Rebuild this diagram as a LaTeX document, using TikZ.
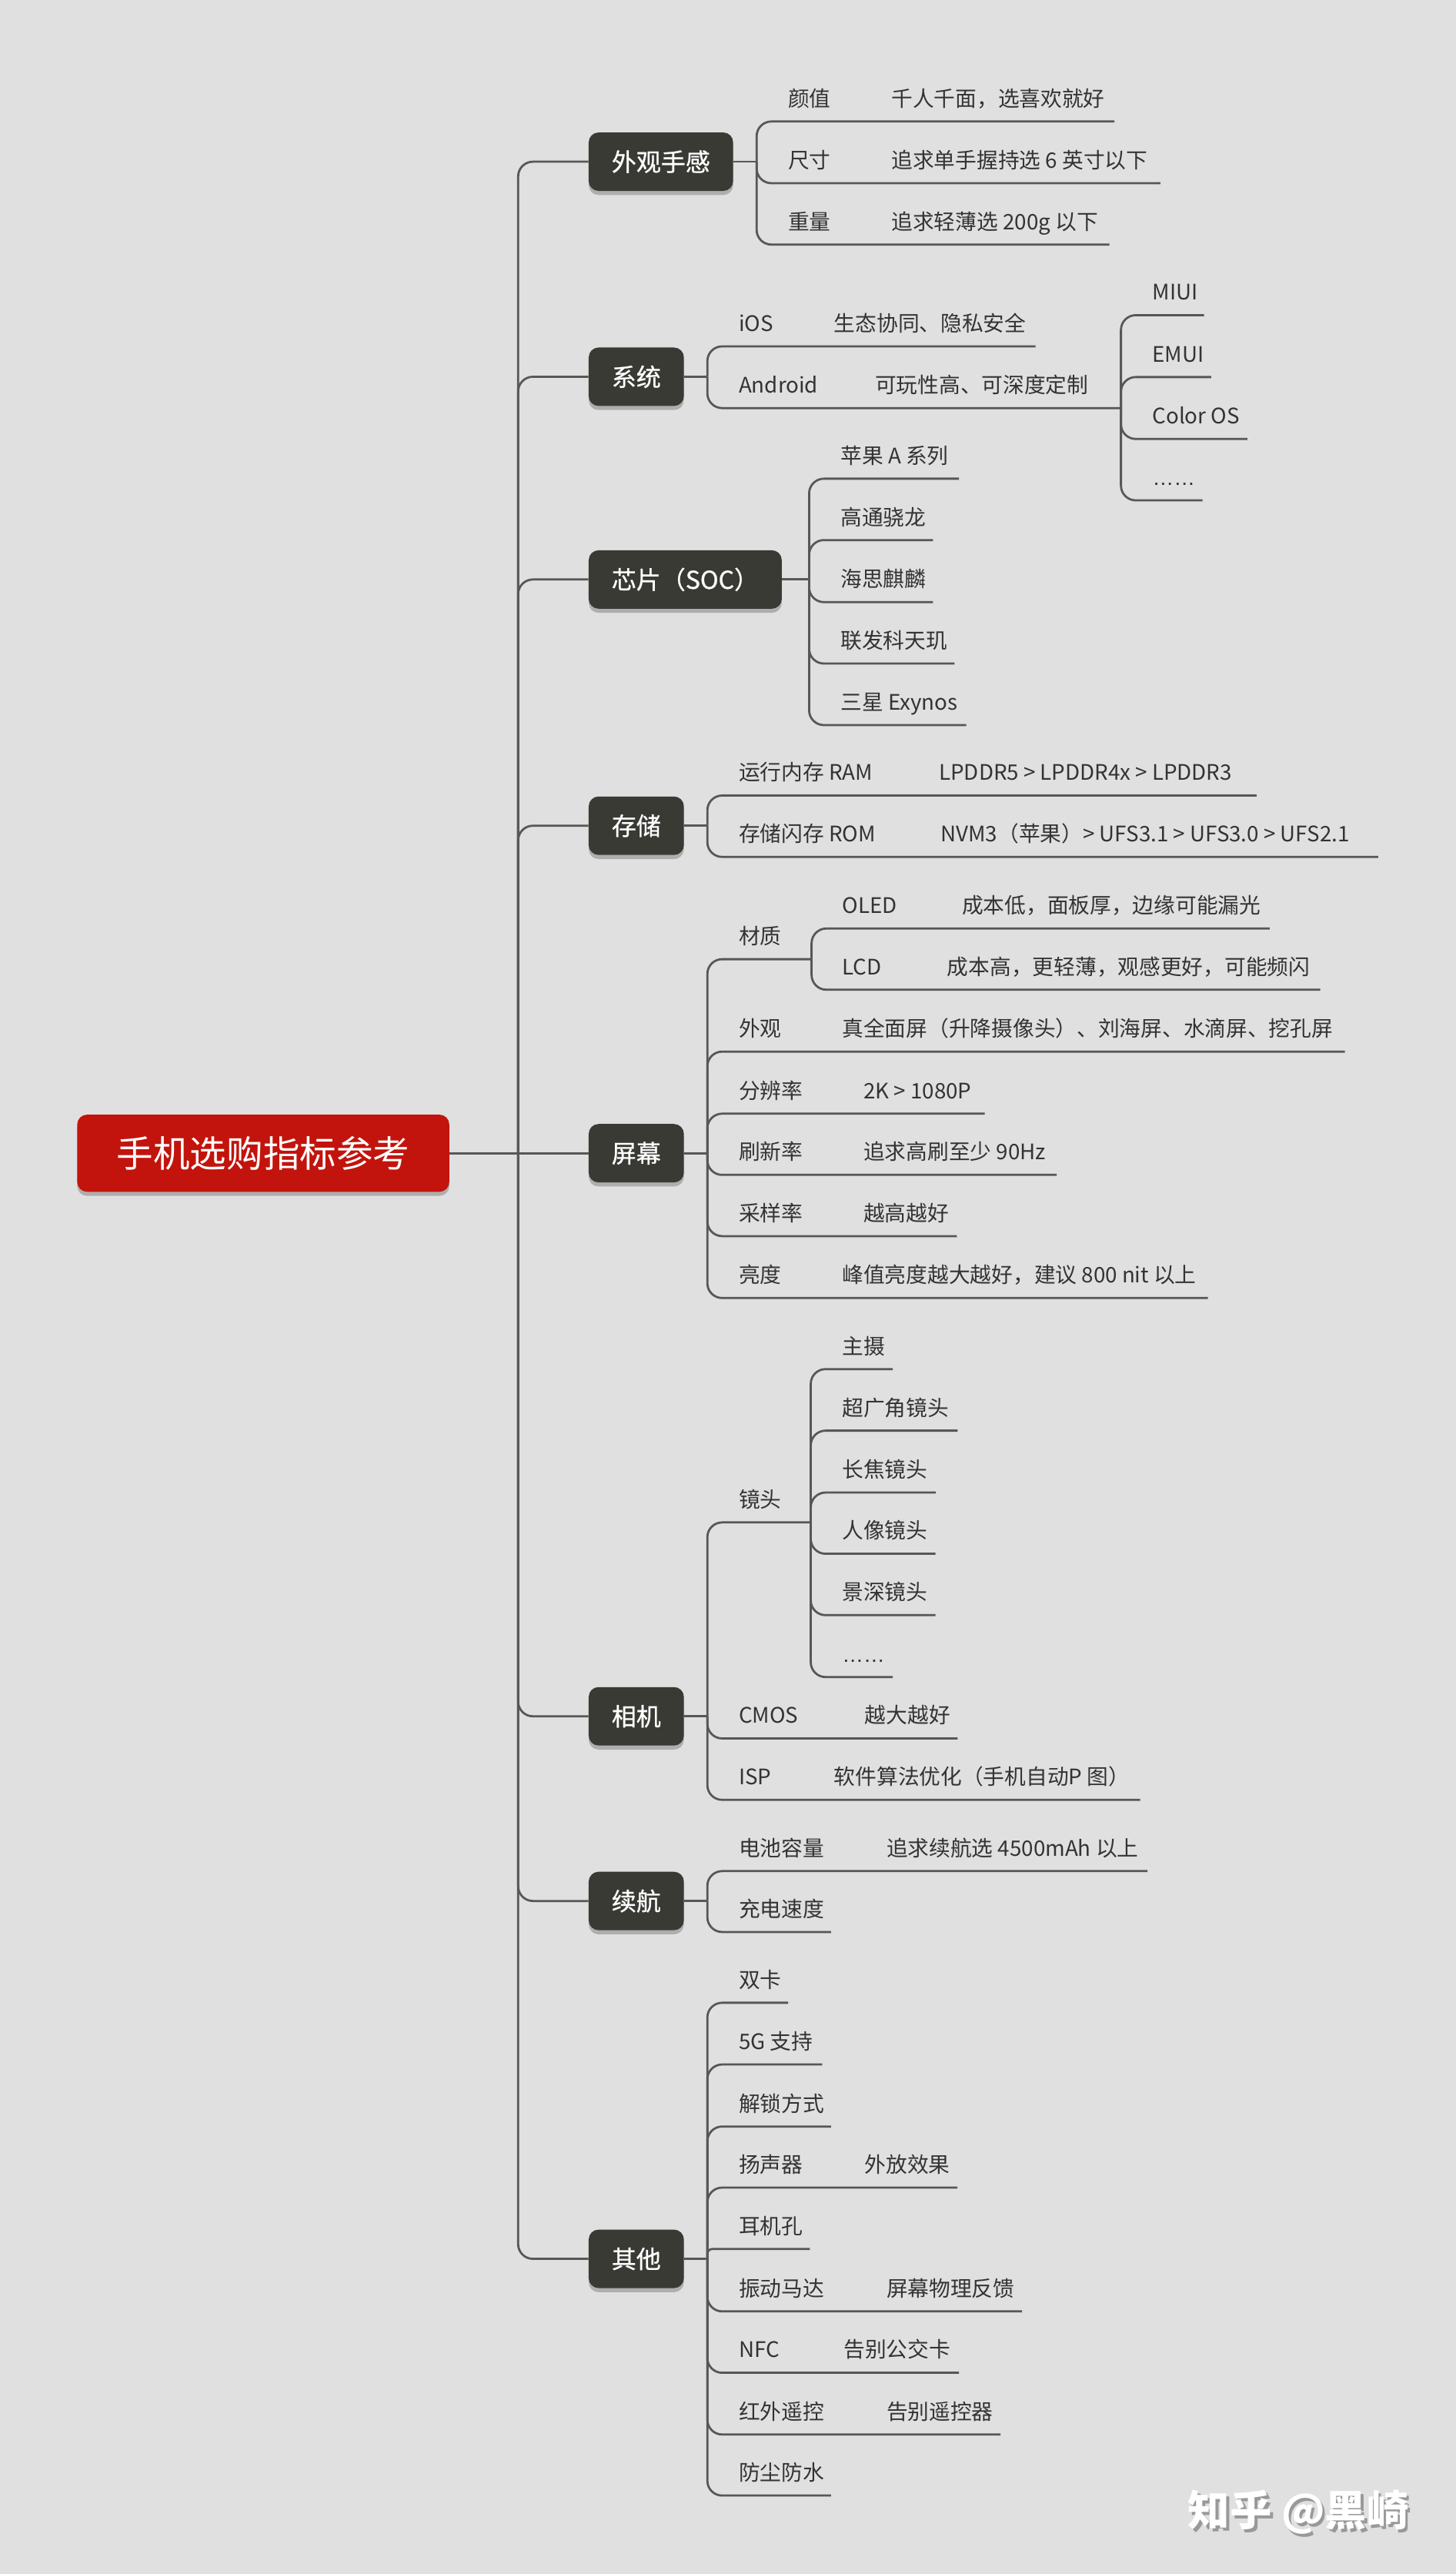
\documentclass[tikz,border=0pt]{standalone}
\usepackage{fontspec}
\setmainfont{Noto Sans CJK SC}
\newfontfamily\latinfont{Liberation Sans}
\newfontfamily\medfont[FakeBold=0.7]{Noto Sans CJK SC}
\usetikzlibrary{shadows}
\definecolor{bg}{HTML}{E0E0E0}
\definecolor{lnc}{HTML}{575757}
\definecolor{txc}{HTML}{333333}
\definecolor{boxc}{HTML}{3A3A35}
\definecolor{rootc}{HTML}{C2140C}
\tikzset{
  conn/.style={draw=lnc, line width=1.3pt, rounded corners=9pt},
  leaf/.style={anchor=base west, text=txc, font=\fontsize{13}{15}\selectfont, inner sep=0pt},
  topic/.style={fill=boxc, text=white, rounded corners=6pt, minimum height=35.6pt,
    inner xsep=14pt, inner ysep=0pt, anchor=west, font=\medfont\fontsize{15}{17}\selectfont,
    drop shadow={shadow xshift=0pt, shadow yshift=-2.5pt, opacity=.22, fill=black}},
  rootbox/.style={fill=rootc, text=white, rounded corners=6pt, minimum width=226.7pt,
    minimum height=47pt, inner sep=0pt, font=\fontsize{22.3}{25}\selectfont,
    drop shadow={shadow xshift=0pt, shadow yshift=-2.5pt, opacity=.22, fill=black}},
}
% branch line from junction #1 to end x #2 on underline y #3
\newcommand\brl[3]{\draw[conn] (#1) |- (#2,#3);}
% leaf text: name, x, underline y, text
\newcommand\lbl[4]{\node[leaf] (#1) at (#2,#3-9.2) {#4};}
\begin{document}
\begin{tikzpicture}[x=1pt,y=-1pt]
\fill[bg] (0,0) rectangle (887,1568);
\useasboundingbox (0,0) rectangle (887,1568);

% root and main topics
\node[rootbox] (root) at (160.4,702.5) {手机选购指标参考};
\node[topic] (b1) at (358.5,98.5) {外观手感};
\node[topic] (b2) at (358.5,229.5) {系统};
\node[topic] (b3) at (358.5,353) {芯片（SOC）};
\node[topic] (b4) at (358.5,503) {存储};
\node[topic] (b5) at (358.5,702.5) {屏幕};
\node[topic] (b6) at (358.5,1045.5) {相机};
\node[topic] (b7) at (358.5,1158) {续航};
\node[topic] (b8) at (358.5,1376) {其他};

% trunk
\coordinate (t0) at (315.7,702.5);
\draw[conn] (root.east) -- (b5.west);
\foreach \b in {b1,b2,b3,b4,b6,b7,b8}{\draw[conn] (t0) |- (\b.west);}

% junction coordinates
\coordinate (j1) at (461,98.5);
\coordinate (j2) at (431,229.5);
\coordinate (j3) at (493,353);
\coordinate (j4) at (431,503);
\coordinate (j5) at (431,702.5);
\coordinate (j6) at (431,1045.5);
\coordinate (j7) at (431,1158);
\coordinate (j8) at (431,1376);
\foreach \i in {1,...,8}{\draw[conn] (b\i.east) -- (j\i);}

% group 1
\brl{j1}{679}{74} \lbl{a1}{480}{74}{颜值} \lbl{a1c}{543}{74}{千人千面，选喜欢就好}
\brl{j1}{707}{111.6} \lbl{a2}{480}{111.6}{尺寸} \lbl{a2c}{543}{111.6}{追求单手握持选 6 英寸以下}
\brl{j1}{676}{149} \lbl{a3}{480}{149}{重量} \lbl{a3c}{543}{149}{追求轻薄选 200g 以下}

% group 2
\brl{j2}{631}{211} \lbl{s1}{450}{211}{iOS} \lbl{s1c}{508}{211}{生态协同、隐私安全}
\brl{j2}{683}{248.6} \lbl{s2}{450}{248.6}{Android} \lbl{s2c}{533}{248.6}{可玩性高、可深度定制}
\coordinate (ja) at (683,248.6);
\brl{ja}{733.6}{192} \lbl{m1}{702}{192}{MIUI}
\brl{ja}{738}{229.7} \lbl{m2}{702}{229.7}{EMUI}
\brl{ja}{760}{267.4} \lbl{m3}{702}{267.4}{Color OS}
\brl{ja}{732.7}{304.8} \lbl{m4}{702}{304.8}{\latinfont ……}

% group 3
\brl{j3}{584.3}{291.6} \lbl{c1}{512}{291.6}{苹果 A 系列}
\brl{j3}{568.5}{329} \lbl{c2}{512}{329}{高通骁龙}
\brl{j3}{568.5}{366.8} \lbl{c3}{512}{366.8}{海思麒麟}
\brl{j3}{581.6}{404.2} \lbl{c4}{512}{404.2}{联发科天玑}
\brl{j3}{588.7}{441.7} \lbl{c5}{512}{441.7}{三星 Exynos}

% group 4
\brl{j4}{765.6}{484.6} \lbl{r1}{450}{484.6}{运行内存 RAM} \lbl{r1c}{572}{484.6}{LPDDR5 > LPDDR4x > LPDDR3}
\brl{j4}{839.7}{522} \lbl{r2}{450}{522}{存储闪存 ROM} \lbl{r2c}{573}{522}{NVM3（苹果）> UFS3.1 > UFS3.0 > UFS2.1}

% group 5
\brl{j5}{494.5}{584.3} \lbl{p1}{450}{584.3}{材质}
\coordinate (jm) at (494.5,584.3);
\brl{jm}{773.6}{565.6} \lbl{p11}{513}{565.6}{OLED} \lbl{p11c}{586}{565.6}{成本低，面板厚，边缘可能漏光}
\brl{jm}{804.5}{602.9} \lbl{p12}{513}{602.9}{LCD} \lbl{p12c}{577}{602.9}{成本高，更轻薄，观感更好，可能频闪}
\brl{j5}{819.4}{640.6} \lbl{p2}{450}{640.6}{外观} \lbl{p2c}{513}{640.6}{真全面屏（升降摄像头）、刘海屏、水滴屏、挖孔屏}
\brl{j5}{600}{678.4} \lbl{p3}{450}{678.4}{分辨率} \lbl{p3c}{526}{678.4}{2K > 1080P}
\brl{j5}{643.8}{715.7} \lbl{p4}{450}{715.7}{刷新率} \lbl{p4c}{526}{715.7}{追求高刷至少 90Hz}
\brl{j5}{583}{753} \lbl{p5}{450}{753}{采样率} \lbl{p5c}{526}{753}{越高越好}
\brl{j5}{736}{790.7} \lbl{p6}{450}{790.7}{亮度} \lbl{p6c}{513}{790.7}{峰值亮度越大越好，建议 800 nit 以上}

% group 6
\brl{j6}{494}{927.4} \lbl{k1}{450}{927.4}{镜头}
\coordinate (jl) at (494,927.4);
\brl{jl}{544}{834} \lbl{k11}{513}{834}{主摄}
\brl{jl}{583.5}{871.5} \lbl{k12}{513}{871.5}{超广角镜头}
\brl{jl}{570.2}{909.2} \lbl{k13}{513}{909.2}{长焦镜头}
\brl{jl}{570}{946.5} \lbl{k14}{513}{946.5}{人像镜头}
\brl{jl}{570}{983.9} \lbl{k15}{513}{983.9}{景深镜头}
\brl{jl}{544}{1021.6} \lbl{k16}{513}{1021.6}{\latinfont ……}
\brl{j6}{583.5}{1059} \lbl{k2}{450}{1059}{CMOS} \lbl{k2c}{526.8}{1059}{越大越好}
\brl{j6}{694.7}{1096.4} \lbl{k3}{450}{1096.4}{ISP} \lbl{k3c}{508}{1096.4}{软件算法优化（手机自动P 图）}

% group 7
\brl{j7}{699.2}{1139.8} \lbl{e1}{450}{1139.8}{电池容量} \lbl{e1c}{540}{1139.8}{追求续航选 4500mAh 以上}
\brl{j7}{506.4}{1176.9} \lbl{e2}{450}{1176.9}{充电速度}

% group 8
\brl{j8}{480.2}{1220} \lbl{o1}{450}{1220}{双卡}
\brl{j8}{501}{1257.6} \lbl{o2}{450}{1257.6}{5G 支持}
\brl{j8}{506.4}{1295.4} \lbl{o3}{450}{1295.4}{解锁方式}
\brl{j8}{583.4}{1332.6} \lbl{o4}{450}{1332.6}{扬声器} \lbl{o4c}{526.7}{1332.6}{外放效果}
\draw[conn, rounded corners=3pt] (j8) |- (493.4,1370); \lbl{o5}{450}{1370}{耳机孔}
\brl{j8}{622.8}{1408} \lbl{o6}{450}{1408}{振动马达} \lbl{o6c}{540}{1408}{屏幕物理反馈}
\brl{j8}{584.3}{1445.4} \lbl{o7}{450}{1445.4}{NFC} \lbl{o7c}{513.9}{1445.4}{告别公交卡}
\brl{j8}{609.6}{1483} \lbl{o8}{450}{1483}{红外遥控} \lbl{o8c}{540}{1483}{告别遥控器}
\brl{j8}{506.4}{1520.2} \lbl{o9}{450}{1520.2}{防尘防水}

% watermark
\node[anchor=west, inner sep=0pt, text=black!40, font=\fontsize{25.5}{28}\selectfont\bfseries] (wms) at (725.5,1532.3) {知乎 @黑崎};
\node[anchor=west, inner sep=0pt, text=white, font=\fontsize{25.5}{28}\selectfont\bfseries] (wm) at (723.7,1530.5) {知乎 @黑崎};
\end{tikzpicture}
\end{document}
